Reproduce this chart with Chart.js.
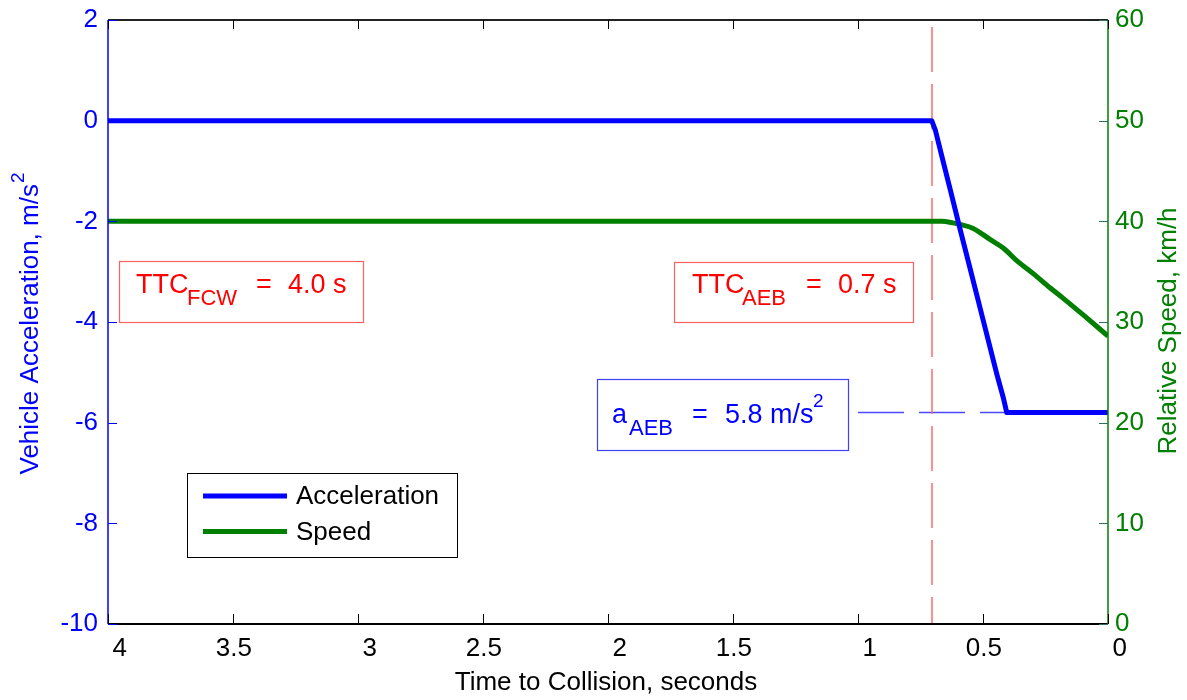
<!DOCTYPE html>
<html><head><meta charset="utf-8">
<script src="https://cdn.jsdelivr.net/npm/chart.js@4/dist/chart.umd.min.js"></script>
<style>html,body{margin:0;padding:0;background:#fff;}canvas{display:block;}</style>
</head><body>
<canvas id="c" width="1187" height="700"></canvas>
<script>
const FONT = '"Liberation Sans", Arial, Helvetica, sans-serif';

// ---- data ----
const seriesNames = ['Acceleration', 'Speed'];
const accTime  = [4.0, 0.705, 0.69, 0.66, 0.632, 0.592, 0.552, 0.499, 0.445, 0.419, 0.405, 0.0];
const accValue = [0, 0, -0.2, -0.8, -1.35, -2.15, -2.93, -3.97, -5.03, -5.5, -5.8, -5.8];
const speedTime  = [4.0, 0.665, 0.62, 0.592, 0.539, 0.472, 0.419, 0.365, 0.299, 0.232, 0.179, 0.099, 0.0];
const speedValue = [40, 40, 39.85, 39.7, 39.3, 38.2, 37.35, 36.1, 34.8, 33.4, 32.35, 30.7, 28.6];
const ttcAebTime  = [0.704, 0.704];
const ttcAebLevel = [1.86, -10];
const aAebTime  = [1.0, 0.405];
const aAebLevel = [-5.8, -5.8];
const xTicks = [4, 3.5, 3, 2.5, 2, 1.5, 1, 0.5, 0];
const accTicks = [-10, -8, -6, -4, -2, 0, 2];
const speedTicks = [0, 10, 20, 30, 40, 50, 60];
const xTitle = 'Time to Collision, seconds';
const yAccTitle = ['Vehicle Acceleration, m/s', '2'];
const ySpeedTitle = 'Relative Speed, km/h';

const pts = (xs, ys) => xs.map((v, i) => ({x: v, y: ys[i]}));

const BLUE = '#0000ff', GREEN = '#008000', RED = '#ff0000';

function hline(ctx, x1, y1, x2, y2, color, w) {
  ctx.beginPath(); ctx.strokeStyle = color; ctx.lineWidth = w;
  ctx.moveTo(x1, y1); ctx.lineTo(x2, y2); ctx.stroke();
}
function txt(ctx, s, x, y, size, color) {
  ctx.font = size + 'px ' + FONT; ctx.fillStyle = color;
  ctx.textAlign = 'left'; ctx.textBaseline = 'alphabetic';
  ctx.fillText(s, x, y);
}
function noPad(s) { s.paddingTop = 0; s.paddingBottom = 0; s.paddingLeft = 0; s.paddingRight = 0; }

const overlay = {
  id: 'overlay',
  afterDatasetsDraw(chart) {
    const {ctx, chartArea: a, scales} = chart;
    const xs = scales.x, ya = scales.yAcc, ysp = scales.ySpeed;
    ctx.save();
    // frame
    hline(ctx, a.left, a.top, a.right, a.top, '#222', 2);
    hline(ctx, a.left, a.bottom, a.right, a.bottom, '#000', 2);
    hline(ctx, a.left, a.top, a.left, a.bottom, BLUE, 1.5);
    hline(ctx, a.right, a.top, a.right, a.bottom, GREEN, 1.5);
    // inward ticks
    xTicks.forEach(v => {
      const p = Math.round(xs.getPixelForValue(v)) + 0.5;
      hline(ctx, p, a.bottom, p, a.bottom - 10, '#000', 1);
      hline(ctx, p, a.top, p, a.top + 9, '#000', 1);
    });
    accTicks.forEach(v => {
      const p = Math.round(ya.getPixelForValue(v)) + 0.5;
      hline(ctx, a.left, p, a.left + 9, p, BLUE, 1);
    });
    speedTicks.forEach(v => {
      const p = Math.round(ysp.getPixelForValue(v)) + 0.5;
      hline(ctx, a.right - 9, p, a.right, p, '#2f6f5f', 1);
    });

    // annotation boxes
    const boxes = [
      {r: [119, 261, 244, 61], border: '#ff6060', color: RED,
       parts: [['TTC', 136, 293, 27], ['FCW', 187, 305, 22], ['=', 256, 293, 27], ['4.0 s', 288, 293, 27]]},
      {r: [674, 262, 239, 60], border: '#ff6060', color: RED,
       parts: [['TTC', 692, 293, 27], ['AEB', 742, 305, 22], ['=', 806, 293, 27], ['0.7 s', 838, 293, 27]]},
      {r: [597, 379, 251, 71], border: '#4040ff', color: BLUE,
       parts: [['a', 612, 423, 27], ['AEB', 629, 435, 22], ['=', 692, 423, 27], ['5.8 m/s', 725, 423, 27], ['2', 813, 407, 19]]}
    ];
    boxes.forEach(b => {
      ctx.fillStyle = '#fff'; ctx.fillRect(b.r[0], b.r[1], b.r[2], b.r[3]);
      ctx.strokeStyle = b.border; ctx.lineWidth = 1.2;
      ctx.strokeRect(b.r[0] + 0.5, b.r[1] + 0.5, b.r[2], b.r[3]);
      b.parts.forEach(p => txt(ctx, p[0], p[1], p[2], p[3], b.color));
    });

    // legend
    const ds = chart.data.datasets.filter(d => seriesNames.includes(d.label))
      .sort((p, q) => seriesNames.indexOf(p.label) - seriesNames.indexOf(q.label));
    ctx.fillStyle = '#fff'; ctx.fillRect(187, 473, 270, 84);
    ctx.strokeStyle = '#000'; ctx.lineWidth = 1; ctx.strokeRect(187.5, 473.5, 270, 84);
    ds.forEach((d, i) => {
      const y = 496 + i * 35.5;
      hline(ctx, 203, y, 287, y, d.borderColor, 5);
      ctx.font = '26px ' + FONT; ctx.fillStyle = '#000';
      ctx.textAlign = 'left'; ctx.textBaseline = 'middle';
      ctx.fillText(d.label, 296, y + 1);
    });

    // axis titles
    ctx.font = '26px ' + FONT; ctx.fillStyle = '#000';
    ctx.textAlign = 'center'; ctx.textBaseline = 'middle';
    ctx.fillText(xTitle, 606, 683);

    // left title with superscript
    ctx.save();
    ctx.translate(31, 324); ctx.rotate(-Math.PI / 2);
    ctx.font = '26px ' + FONT;
    const w1 = ctx.measureText(yAccTitle[0]).width;
    ctx.font = '19px ' + FONT;
    const w2 = ctx.measureText(yAccTitle[1]).width;
    const start = -(w1 + w2) / 2;
    ctx.textAlign = 'left'; ctx.textBaseline = 'middle'; ctx.fillStyle = BLUE;
    ctx.font = '26px ' + FONT; ctx.fillText(yAccTitle[0], start, 0);
    ctx.font = '19px ' + FONT; ctx.fillText(yAccTitle[1], start + w1 + 1, -12);
    ctx.restore();

    // right title
    ctx.save();
    ctx.translate(1169, 331); ctx.rotate(-Math.PI / 2);
    ctx.font = '26px ' + FONT; ctx.fillStyle = GREEN;
    ctx.textAlign = 'center'; ctx.textBaseline = 'middle';
    ctx.fillText(ySpeedTitle, 0, 0);
    ctx.restore();

    ctx.restore();
  }
};

new Chart(document.getElementById('c').getContext('2d'), {
  type: 'line',
  data: {
    datasets: [
      {label: seriesNames[0], data: pts(accTime, accValue), yAxisID: 'yAcc',
       borderColor: BLUE, borderWidth: 5, pointRadius: 0, tension: 0, order: 1,
       borderJoinStyle: 'round', fill: false},
      {label: seriesNames[1], data: pts(speedTime, speedValue), yAxisID: 'ySpeed',
       borderColor: '#007f00', borderWidth: 5, pointRadius: 0, cubicInterpolationMode: 'monotone', order: 2,
       borderJoinStyle: 'round', fill: false},
      {label: 'TTC AEB', data: pts(ttcAebTime, ttcAebLevel), yAxisID: 'yAcc',
       borderColor: '#ff6b6b', borderWidth: 1.5, borderDash: [45, 12], pointRadius: 0, order: 3, fill: false},
      {label: 'a AEB', data: pts(aAebTime, aAebLevel), yAxisID: 'yAcc',
       borderColor: '#4a4aff', borderWidth: 1.5, borderDash: [46, 15], pointRadius: 0, order: 4, fill: false}
    ]
  },
  options: {
    responsive: false, animation: false, devicePixelRatio: 1,
    layout: {padding: {top: 20, left: 0, right: 0, bottom: 0}},
    plugins: {legend: {display: false}, tooltip: {enabled: false}},
    scales: {
      x: {type: 'linear', reverse: true, min: 0, max: 4,
          afterFit: s => { s.height = 76; noPad(s); },
          afterBuildTicks: s => { s.ticks = xTicks.map(v => ({value: v})); },
          ticks: {color: '#000', font: {family: FONT, size: 26}, padding: 9, maxRotation: 0, autoSkip: false,
                  align: 'end', labelOffset: 19, callback: v => String(v)},
          grid: {display: false, drawTicks: false}, border: {display: false}},
      yAcc: {type: 'linear', position: 'left', min: -10, max: 2,
          afterFit: s => { s.width = 108; noPad(s); },
          afterBuildTicks: s => { s.ticks = accTicks.map(v => ({value: v})); },
          ticks: {color: BLUE, font: {family: FONT, size: 26}, padding: 10, callback: v => String(v)},
          grid: {display: false, drawTicks: false}, border: {display: false}},
      ySpeed: {type: 'linear', position: 'right', min: 0, max: 60,
          afterFit: s => { s.width = 79; noPad(s); },
          afterBuildTicks: s => { s.ticks = speedTicks.map(v => ({value: v})); },
          ticks: {color: GREEN, font: {family: FONT, size: 26}, padding: 7, callback: v => String(v)},
          grid: {display: false, drawTicks: false}, border: {display: false}}
    }
  },
  plugins: [overlay]
});
</script>
</body></html>
